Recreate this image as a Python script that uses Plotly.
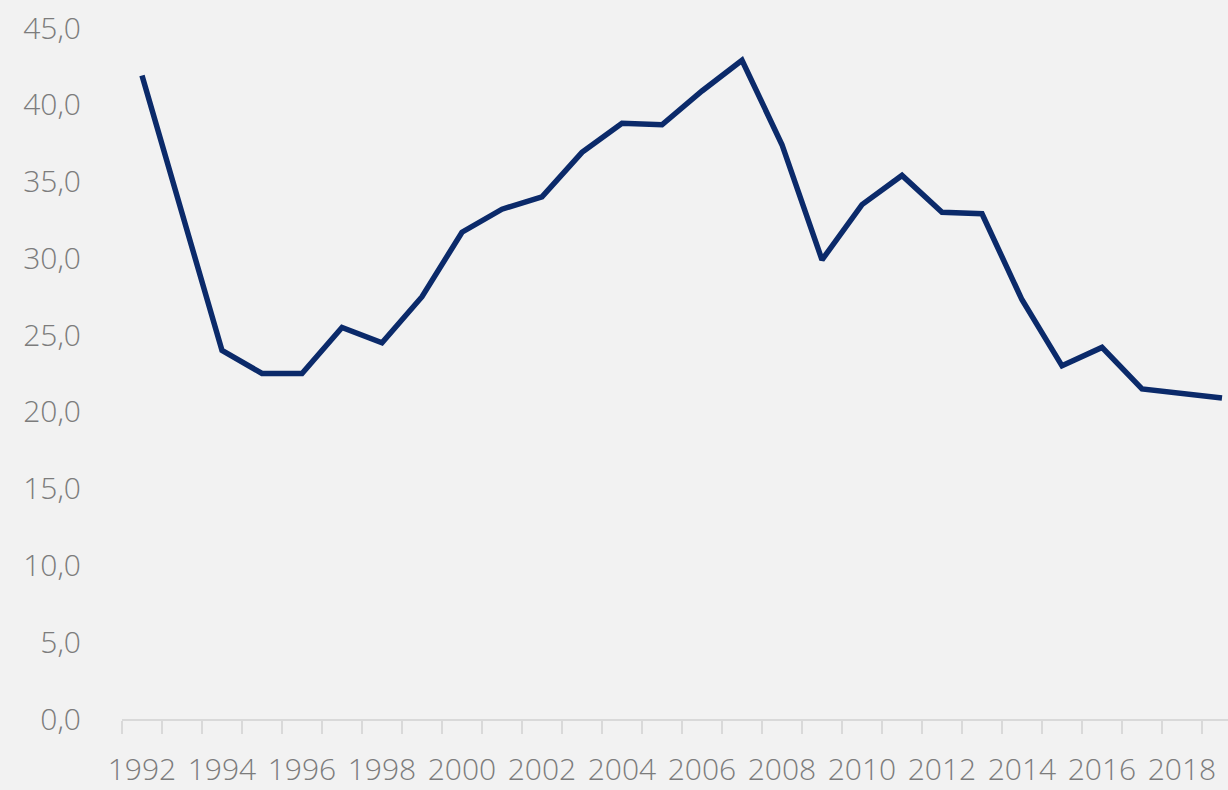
import plotly.graph_objects as go

years = list(range(1992, 2020))
values = [41.9, 33.0, 24.0, 22.5, 22.5, 25.5, 24.5, 27.5, 31.7, 33.2,
          34.0, 36.9, 38.8, 38.7, 40.9, 42.9, 37.4, 29.9, 33.5, 35.4,
          33.0, 32.9, 27.3, 23.0, 24.2, 21.5, 21.2, 20.9]

y_ticks = [0, 5, 10, 15, 20, 25, 30, 35, 40, 45]
x_ticks = list(range(1992, 2019, 2))

bg = "#f2f2f2"
grey = "#d9d9d9"

fig = go.Figure()
fig.add_trace(go.Scatter(
    x=years, y=values, mode="lines",
    line=dict(color="#0b2a6a", width=5.5),
    hoverinfo="x+y",
))

fig.update_layout(
    width=1228, height=790,
    margin=dict(l=122, r=0, t=28, b=71),
    paper_bgcolor=bg, plot_bgcolor=bg,
    separators=",.",
    showlegend=False,
    font=dict(family="Open Sans", size=30, color="#7c7c7c", weight=300),
)

fig.update_xaxes(
    range=[1991.5, 2019.15],
    tickvals=x_ticks, ticktext=[str(v) for v in x_ticks],
    ticks="", showgrid=False, zeroline=False,
    showline=True, linecolor=grey, linewidth=2,
    ticklabelstandoff=23,
    minor=dict(tick0=1991.5, dtick=1, ticks="outside", ticklen=13,
               tickcolor=grey, tickwidth=2, showgrid=False),
)

fig.update_yaxes(
    range=[0, 45],
    tickvals=y_ticks, tickformat=".1f",
    ticks="", showgrid=False, zeroline=False, showline=False,
    ticklabelstandoff=40,
)

# drop the page margin so the figure sits flush in the window
fig.write_html(
    "out.html",
    config={"displayModeBar": False},
    post_script="document.body.style.margin='0';"
                "document.body.style.overflow='hidden';"
                "document.body.style.background='#f2f2f2';",
)
